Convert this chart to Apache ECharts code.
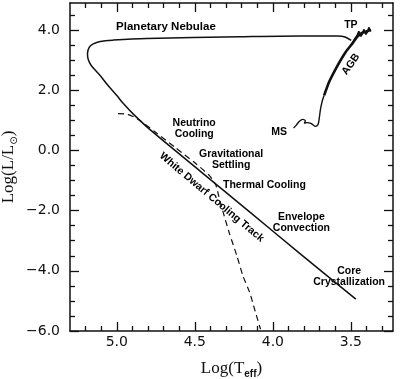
<!DOCTYPE html>
<html>
<head>
<meta charset="utf-8">
<script src="https://cdn.jsdelivr.net/npm/echarts@6/dist/echarts.min.js"></script>
<style>
  html, body { margin: 0; padding: 0; background: #fff; }
  #chart { width: 400px; height: 379px; }
</style>
</head>
<body>
<div id="chart"></div>
<script>
// axis ranges and ticks (x axis runs hot -> cool, so it is inverted)
const xMin = 3.23, xMax = 5.3
const yMin = -6, yMax = 4.9
const xMajor = [5.0, 4.5, 4.0, 3.5]
const xMinor = [5.2, 5.1, 4.9, 4.8, 4.7, 4.6, 4.4, 4.3, 4.2, 4.1, 3.9, 3.8, 3.7, 3.6, 3.4, 3.3]
const yMajor = [-6, -4, -2, 0, 2, 4]
const yMinor = [-5.5, -5, -4.5, -3.5, -3, -2.5, -1.5, -1, -0.5, 0.5, 1, 1.5, 2.5, 3, 3.5, 4.5]

// main sequence hook up to the base of the AGB
const msX = [3.867, 3.851, 3.830, 3.809, 3.792, 3.798, 3.784, 3.756, 3.728, 3.711, 3.703, 3.694, 3.682, 3.671]
const msY = [0.747, 0.833, 0.967, 1.033, 0.99, 0.9, 0.923, 0.9, 0.8, 0.857, 1.057, 1.39, 1.667, 1.833]

// AGB climb
const agbX = [3.671, 3.639, 3.596, 3.532, 3.490, 3.458, 3.426, 3.394, 3.373]
const agbY = [1.833, 2.28, 2.723, 3.28, 3.557, 3.78, 3.913, 3.967, 4.0]

// thermal pulses (spiky tip)
const tpX = [3.490, 3.474, 3.462, 3.449, 3.436, 3.425, 3.417, 3.404, 3.392, 3.385, 3.372]
const tpY = [3.557, 3.723, 3.80, 3.957, 3.79, 3.88, 4.023, 3.857, 3.95, 4.09, 3.957]

// post-AGB / planetary nebula / white dwarf cooling track
const pnX = [3.498, 3.537, 3.588, 3.830, 4.213, 4.809, 5.022, 5.107, 5.151, 5.177, 5.188, 5.183, 5.164, 5.107, 5.056, 5.0, 4.958, 4.894, 4.787, 4.468, 4.149, 3.830, 3.468]
const pnY = [3.657, 3.773, 3.803, 3.807, 3.78, 3.723, 3.667, 3.623, 3.54, 3.423, 3.223, 3.023, 2.823, 2.49, 2.157, 1.823, 1.557, 1.207, 0.69, -0.677, -2.043, -3.41, -4.943]

// dashed track
const dashX = [4.992, 4.934, 4.870, 4.756, 4.628, 4.500, 4.405, 4.366, 4.347, 4.321, 4.277, 4.232, 4.192, 4.149, 4.117, 4.079]
const dashY = [1.223, 1.207, 1.057, 0.623, 0.107, -0.41, -0.843, -1.143, -1.51, -2.01, -2.777, -3.477, -4.167, -4.71, -5.277, -5.943]

// annotations
const annoText = ['Planetary Nebulae', 'TP', 'AGB', 'MS', 'Neutrino\nCooling', 'Gravitational\nSettling',
  'Thermal Cooling', 'White Dwarf Cooling Track', 'Envelope\nConvection', 'Core\nCrystallization']
const annoX = [4.685, 3.500, 3.500, 3.960, 4.504, 4.267, 4.054, 4.392, 3.817, 3.511]
const annoY = [4.113, 4.18, 2.863, 0.6, 0.723, -0.31, -1.167, -1.56, -2.387, -4.193]
const annoRot = [0, 0, 55, 0, 0, 0, 0, -40, 0, 0]

const ink = '#111'
const pairs = (xs, ys) => xs.map((x, i) => [x, ys[i]])
const fmt = (v) => (v < 0 ? '\u2212' : '') + Math.abs(v).toFixed(1)

function xAx(position, values, len, withLabel) {
  return {
    type: 'value', position, inverse: true, min: xMin, max: xMax,
    axisLine: { show: withLabel !== null, onZero: false, lineStyle: { color: ink, width: 1.5 } },
    axisTick: { inside: true, length: len, customValues: values, lineStyle: { color: ink, width: 1.3 } },
    axisLabel: withLabel ? {
      show: true, customValues: values, formatter: fmt, margin: 4,
      color: ink, fontSize: 14, fontFamily: 'DejaVu Sans'
    } : { show: false },
    splitLine: { show: false }
  }
}

function yAx(position, values, len, withLabel) {
  return {
    type: 'value', position, min: yMin, max: yMax,
    axisLine: { show: withLabel !== null, onZero: false, lineStyle: { color: ink, width: 1.5 } },
    axisTick: { inside: true, length: len, customValues: values, lineStyle: { color: ink, width: 1.3 } },
    axisLabel: withLabel ? {
      show: true, customValues: values, formatter: fmt, margin: 10,
      color: ink, fontSize: 14, fontFamily: 'DejaVu Sans'
    } : { show: false },
    splitLine: { show: false }
  }
}

const chart = echarts.init(document.getElementById('chart'), null, { renderer: 'canvas' })

const xBottom = xAx('bottom', xMajor, 9, true)
xBottom.name = 'Log(T{s|eff})'
xBottom.nameLocation = 'middle'
xBottom.nameGap = 28
xBottom.nameMoveOverlap = false
xBottom.nameTextStyle = {
  color: ink, fontSize: 17, fontFamily: 'Liberation Serif', lineHeight: 20,
  rich: { s: { fontSize: 10, fontWeight: 'bold', fontFamily: 'Liberation Sans', verticalAlign: 'bottom', lineHeight: 12, color: ink } }
}

const yLeft = yAx('left', yMajor, 9, true)
yLeft.name = 'Log(L/L{s|⊙})'
yLeft.nameLocation = 'middle'
yLeft.nameGap = 51
yLeft.nameMoveOverlap = false
yLeft.nameTextStyle = {
  color: ink, fontSize: 17, fontFamily: 'Liberation Serif', lineHeight: 20,
  rich: { s: { fontSize: 10, fontFamily: 'DejaVu Sans', verticalAlign: 'bottom', lineHeight: 12, color: ink } }
}

const option = {
  animation: false,
  backgroundColor: '#fff',
  grid: { left: 70, right: 7, top: 3, bottom: 48, containLabel: false, outerBoundsMode: 'none' },
  xAxis: [
    xBottom,
    xAx('bottom', xMinor, 5, null),
    xAx('top', xMajor, 9, false),
    xAx('top', xMinor, 5, null)
  ],
  yAxis: [
    yLeft,
    yAx('left', yMinor, 5, null),
    yAx('right', yMajor, 9, false),
    yAx('right', yMinor, 5, null)
  ],
  series: [
    {
      type: 'line', data: pairs(msX, msY), showSymbol: false, smooth: 0.3,
      lineStyle: { color: ink, width: 1.4 }
    },
    {
      type: 'line', data: pairs(agbX, agbY), showSymbol: false, smooth: 0.2,
      lineStyle: { color: ink, width: 2.6 }
    },
    {
      type: 'line', data: pairs(tpX, tpY), showSymbol: false,
      lineStyle: { color: ink, width: 1.6 }
    },
    {
      type: 'line', data: pairs(pnX, pnY), showSymbol: false, smooth: 0.3,
      lineStyle: { color: ink, width: 1.5 }
    },
    {
      type: 'line', data: pairs(dashX, dashY), showSymbol: false, smooth: 0.2,
      lineStyle: { color: ink, width: 1.2, type: [6, 4] }
    },
    {
      type: 'scatter', silent: true, symbolSize: 1,
      itemStyle: { color: 'rgba(0,0,0,0)', opacity: 1 },
      data: annoText.map((t, i) => ({
        name: t, value: [annoX[i], annoY[i]],
        label: { rotate: annoRot[i], fontSize: i === 0 ? 11.5 : 10.5 }
      })),
      label: {
        show: true, position: 'inside', formatter: '{b}', opacity: 1,
        color: '#000', fontWeight: 'bold', fontFamily: 'Liberation Sans', lineHeight: 11
      }
    }
  ]
}

chart.setOption(option)
</script>
</body>
</html>
